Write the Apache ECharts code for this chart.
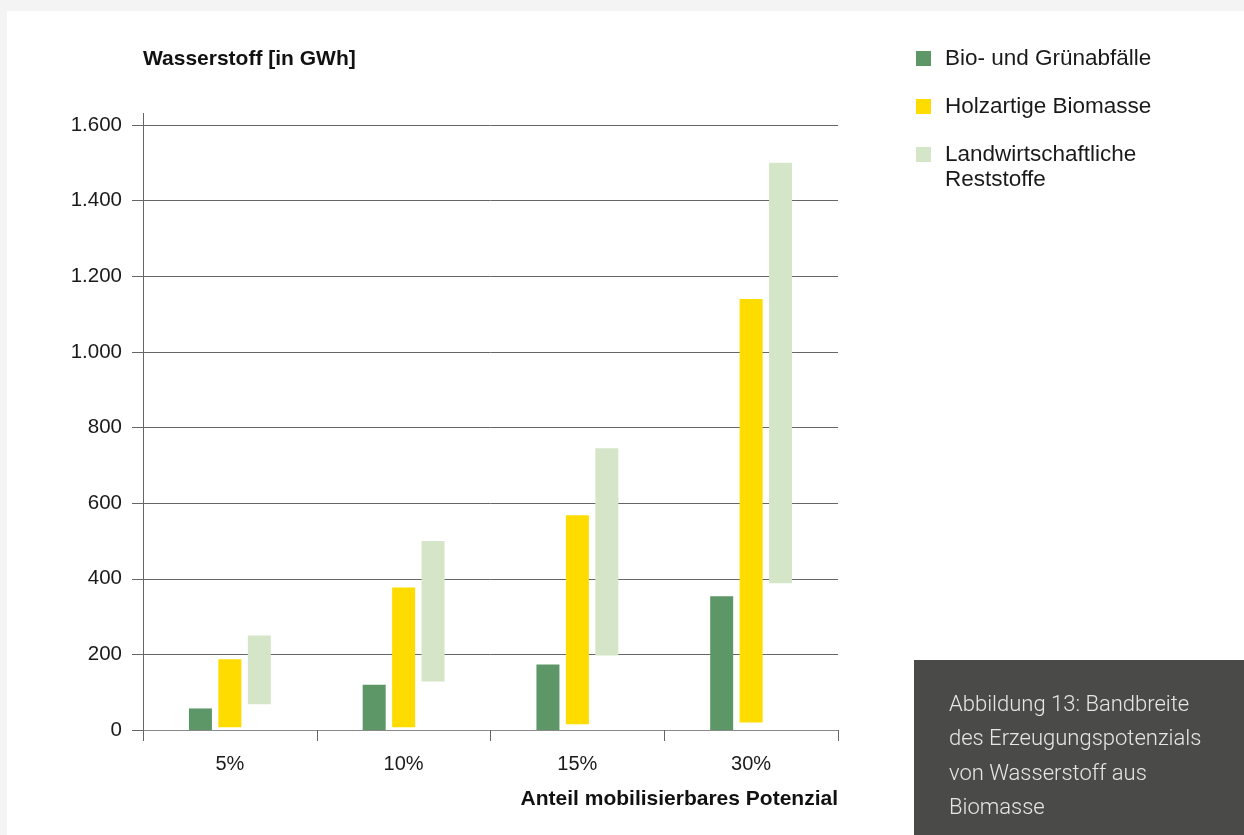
<!DOCTYPE html>
<html>
<head>
<meta charset="utf-8">
<script src="https://cdn.jsdelivr.net/npm/echarts@6/dist/echarts.min.js"></script>
<style>
  html, body { margin: 0; padding: 0; background: #f4f4f4; }
  #chart { width: 1244px; height: 835px; }
</style>
</head>
<body>
<div id="chart"></div>
<script>
// Hydrogen potential ranges (GWh) per share of mobilisable biomass potential
const categories = ['5%', '10%', '15%', '30%'];
const seriesNames = ['Bio- und Grünabfälle', 'Holzartige Biomasse', 'Landwirtschaftliche\nReststoffe'];
const bioLow = [0, 0, 0, 0];
const bioHigh = [57, 120, 173, 354];
const holzLow = [7, 7, 15, 20];
const holzHigh = [187, 377, 568, 1140];
const landLow = [68, 128, 197, 388];
const landHigh = [250, 500, 745, 1500];
const yTickValues = [0, 200, 400, 600, 800, 1000, 1200, 1400, 1600];

const colors = ['#5e9767', '#ffdc00', '#d4e6c7'];
const FONT = '"Liberation Sans", Arial, sans-serif';
const GRID = { left: 143, right: 406, top: 125, bottom: 105 };

// thousands separator with a dot, e.g. 1.600
function formatDe(v) {
  return String(v).replace(/\B(?=(\d{3})+(?!\d))/g, '.');
}

// floating bar: invisible base up to the low value, visible part up to the high value
function rangeBar(name, low, high, color) {
  const common = { type: 'bar', stack: name, barWidth: 23, barGap: '28%' };
  return [
    Object.assign({}, common, {
      data: low,
      itemStyle: { color: 'transparent' },
      silent: true
    }),
    Object.assign({}, common, {
      name: name,
      data: high.map((h, i) => h - low[i]),
      itemStyle: { color: color }
    })
  ];
}

const legendText = { fontFamily: FONT, fontSize: 22.5, color: '#1a1a1a', lineHeight: 25, padding: [0, 0, 0, 9] };

const chart = echarts.init(document.getElementById('chart'));

const option = {
  animation: false,
  backgroundColor: '#f4f4f4',
  textStyle: { fontFamily: FONT },
  title: {
    text: 'Wasserstoff [in GWh]',
    left: GRID.left,
    top: 49,
    padding: 0,
    textStyle: { fontFamily: FONT, fontSize: 21, fontWeight: 'bold', color: '#111', lineHeight: 21 }
  },
  legend: [
    {
      orient: 'vertical',
      left: 916,
      top: 46,
      padding: 0,
      itemGap: 23,
      itemWidth: 15,
      itemHeight: 15,
      icon: 'rect',
      data: [seriesNames[0], seriesNames[1]],
      textStyle: legendText
    },
    {
      // leading blank line keeps the icon level with the first text line
      orient: 'vertical',
      left: 916,
      top: 117,
      padding: 0,
      itemWidth: 15,
      itemHeight: 15,
      icon: 'rect',
      data: [seriesNames[2]],
      formatter: name => '\n' + name,
      textStyle: legendText
    }
  ],
  grid: GRID,
  xAxis: {
    type: 'category',
    data: categories,
    axisLine: { lineStyle: { color: '#8a8a8a', width: 1 } },
    axisTick: { show: true, length: 11, lineStyle: { color: '#666' } },
    axisLabel: { fontFamily: FONT, fontSize: 20, color: '#1a1a1a', margin: 24 },
    name: 'Anteil mobilisierbares Potenzial',
    nameLocation: 'end',
    nameGap: 0,
    nameTextStyle: {
      fontFamily: FONT, fontSize: 21, fontWeight: 'bold', color: '#111',
      align: 'right', verticalAlign: 'top', padding: [59, 0, 0, 0]
    }
  },
  yAxis: {
    type: 'value',
    min: yTickValues[0],
    max: yTickValues[yTickValues.length - 1],
    interval: yTickValues[1] - yTickValues[0],
    axisLine: { show: true, lineStyle: { color: '#666', width: 1 } },
    axisTick: { show: true, length: 11, lineStyle: { color: '#666' } },
    axisLabel: { fontFamily: FONT, fontSize: 20.5, color: '#1a1a1a', margin: 21, formatter: formatDe },
    splitLine: { show: true, lineStyle: { color: '#666', width: 1 } }
  },
  series: [].concat(
    rangeBar(seriesNames[0], bioLow, bioHigh, colors[0]),
    rangeBar(seriesNames[1], holzLow, holzHigh, colors[1]),
    rangeBar(seriesNames[2], landLow, landHigh, colors[2])
  )
};

chart.setOption(option);

// white panel, caption box and the overshoot of the value axis above its top tick
const yTop = chart.convertToPixel({ yAxisIndex: 0 }, yTickValues[yTickValues.length - 1]);
chart.setOption({
  graphic: [
    {
      type: 'rect', z: -10, silent: true,
      shape: { x: 7, y: 11, width: 1237, height: 824 },
      style: { fill: '#ffffff' }
    },
    {
      type: 'line', z: 10, silent: true,
      shape: { x1: GRID.left + 0.5, y1: yTop - 12, x2: GRID.left + 0.5, y2: yTop },
      style: { stroke: '#666', lineWidth: 1 }
    },
    {
      type: 'rect', z: 10, silent: true,
      shape: { x: 914, y: 660, width: 330, height: 175 },
      style: { fill: '#4a4a48' }
    },
    {
      type: 'text', z: 11, silent: true,
      x: 949, y: 688.5,
      style: {
        text: 'Abbildung 13: Bandbreite\ndes Erzeugungspotenzials\nvon Wasserstoff aus\nBiomasse',
        fill: '#e6e6e4',
        font: '300 22px Roboto, "Liberation Sans", sans-serif',
        lineHeight: 34.3,
        verticalAlign: 'top',
        align: 'left'
      }
    }
  ]
});
</script>
</body>
</html>
